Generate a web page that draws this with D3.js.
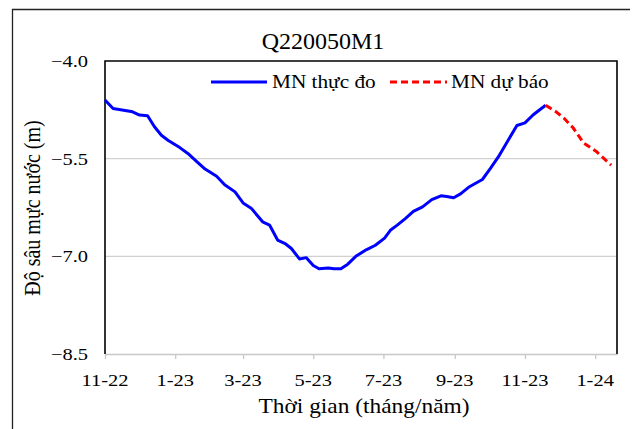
<!DOCTYPE html>
<html>
<head>
<meta charset="utf-8">
<script src="https://cdn.jsdelivr.net/npm/d3@7"></script>
<style>
  body { margin: 0; background: #fff; }
  svg text { font-family: "Liberation Serif", "DejaVu Serif", "Times New Roman", Times, serif; }
</style>
</head>
<body>
<div id="chart"></div>
<script>
// measured water level (blue) and forecast (red dashed)
var obsDates = ["2022-11-01","2022-11-08","2022-11-25","2022-12-01","2022-12-08","2022-12-14","2022-12-20","2022-12-26",
  "2023-01-05","2023-01-12","2023-01-20","2023-01-27","2023-02-06","2023-02-13","2023-02-22","2023-03-01","2023-03-08",
  "2023-03-18","2023-03-24","2023-03-31","2023-04-07","2023-04-12","2023-04-19","2023-04-25","2023-05-01","2023-05-06",
  "2023-05-14","2023-05-19","2023-05-25","2023-05-31","2023-06-07","2023-06-16","2023-06-24","2023-07-02","2023-07-07",
  "2023-07-13","2023-07-20","2023-07-27","2023-08-04","2023-08-12","2023-08-20","2023-08-25","2023-08-31","2023-09-06",
  "2023-09-13","2023-09-18","2023-09-25","2023-10-02","2023-10-09","2023-10-16","2023-10-25","2023-11-01","2023-11-08",
  "2023-11-13","2023-11-19"];
var obsValues = [-4.60,-4.73,-4.78,-4.83,-4.84,-5.01,-5.14,-5.22,
  -5.33,-5.42,-5.55,-5.66,-5.77,-5.90,-6.01,-6.18,-6.26,
  -6.47,-6.52,-6.75,-6.81,-6.88,-7.04,-7.02,-7.14,-7.19,
  -7.18,-7.19,-7.19,-7.12,-7.00,-6.90,-6.83,-6.72,-6.60,
  -6.52,-6.42,-6.31,-6.24,-6.13,-6.07,-6.08,-6.10,-6.04,
  -5.94,-5.89,-5.82,-5.65,-5.47,-5.26,-4.99,-4.95,-4.83,
  -4.76,-4.68];
var fcDates = ["2023-11-19","2023-11-28","2023-12-05","2023-12-13","2023-12-22","2024-01-02","2024-01-15"];
var fcValues = [-4.68,-4.78,-4.88,-5.03,-5.26,-5.39,-5.60];

var xTicks = ["2022-11-01","2023-01-01","2023-03-01","2023-05-01","2023-07-01","2023-09-01","2023-11-01","2024-01-01"];
var yTicks = [-4.0, -5.5, -7.0, -8.5];

var width = 634, height = 429;
var pLeft = 105, pRight = 617, pTop = 61, pBottom = 354;
var serif = '"Liberation Serif", "DejaVu Serif", "Times New Roman", Times, serif';
var parse = d3.timeParse("%Y-%m-%d");
var fmtMonth = d3.timeFormat("%-m-%y");

var svg = d3.select("#chart").append("svg")
  .attr("width", width).attr("height", height);

// outer frame (no right/bottom edge visible)
svg.append("path")
  .attr("d", "M12.5,430 L12.5,9.5 L630,9.5")
  .attr("fill", "none").attr("stroke", "#222").attr("stroke-width", 1.3);

var x = d3.scaleTime()
  .domain([parse("2022-11-01"), parse("2024-01-20")])
  .range([pLeft, pRight]);
var y = d3.scaleLinear().domain([-8.5, -4.0]).range([pBottom, pTop]);

// gridlines
svg.selectAll(".grid")
  .data(yTicks.filter(function(d) { return d > -8.5 && d < -4.0; }))
  .enter().append("line")
  .attr("x1", pLeft).attr("x2", pRight)
  .attr("y1", function(d) { return y(d); })
  .attr("y2", function(d) { return y(d); })
  .attr("stroke", "#d0d0d0").attr("stroke-width", 1.3);

// x axis
var xAxis = svg.append("g")
  .attr("transform", "translate(0," + pBottom + ")")
  .call(d3.axisBottom(x)
    .tickValues(xTicks.map(parse))
    .tickSize(5)
    .tickSizeOuter(0)
    .tickFormat(fmtMonth));
xAxis.select(".domain").attr("stroke", "#c8c8c8").attr("stroke-width", 1.3);
xAxis.selectAll(".tick line").attr("stroke", "#c8c8c8").attr("stroke-width", 1.3);
xAxis.selectAll(".tick text").remove();

// plot border: left, top, right in black
svg.append("path")
  .attr("d", "M" + pLeft + "," + pBottom + " L" + pLeft + "," + pTop + " L" + pRight + "," + pTop + " L" + pRight + "," + pBottom)
  .attr("fill", "none").attr("stroke", "#000").attr("stroke-width", 1.6);

svg.selectAll(".xlab")
  .data(xTicks)
  .enter().append("text")
  .attr("transform", function(d) { return "translate(" + x(parse(d)) + ",385.5) scale(1.17,1)"; })
  .attr("text-anchor", "middle")
  .style("font-family", serif)
  .style("font-size", "17.5px")
  .text(function(d) { return fmtMonth(parse(d)); });

// y tick labels
svg.selectAll(".ylab")
  .data(yTicks)
  .enter().append("text")
  .attr("transform", function(d) { return "translate(88," + (y(d) + 6) + ") scale(1.17,1)"; })
  .attr("text-anchor", "end")
  .style("font-family", serif)
  .style("font-size", "17.5px")
  .text(function(d) { return d3.format(".1f")(d); });

// lines
var line = d3.line()
  .x(function(d) { return x(d.date); })
  .y(function(d) { return y(d.value); });

var obs = obsDates.map(function(d, i) { return { date: parse(d), value: obsValues[i] }; });
var fc = fcDates.map(function(d, i) { return { date: parse(d), value: fcValues[i] }; });

svg.append("path").datum(obs)
  .attr("d", line)
  .attr("fill", "none").attr("stroke", "#0000ff").attr("stroke-width", 3)
  .attr("stroke-linejoin", "round");

svg.append("path").datum(fc)
  .attr("d", line)
  .attr("fill", "none").attr("stroke", "#ff0000").attr("stroke-width", 3)
  .attr("stroke-dasharray", "7,4");

// title
svg.append("text")
  .attr("x", 323).attr("y", 49)
  .attr("text-anchor", "middle")
  .style("font-family", serif)
  .style("font-size", "24px")
  .text("Q220050M1");

// legend
svg.append("line")
  .attr("x1", 211).attr("x2", 267).attr("y1", 82).attr("y2", 82)
  .attr("stroke", "#0000ff").attr("stroke-width", 3);
svg.append("text")
  .attr("transform", "translate(272,88) scale(1.15,1)")
  .style("font-family", serif)
  .style("font-size", "18.5px")
  .text("MN thực đo");
svg.append("line")
  .attr("x1", 390).attr("x2", 447).attr("y1", 82).attr("y2", 82)
  .attr("stroke", "#ff0000").attr("stroke-width", 3)
  .attr("stroke-dasharray", "7,4");
svg.append("text")
  .attr("transform", "translate(451,88) scale(1.15,1)")
  .style("font-family", serif)
  .style("font-size", "18.5px")
  .text("MN dự báo");

// axis titles
svg.append("text")
  .attr("transform", "translate(364,413) scale(1.17,1)")
  .attr("text-anchor", "middle")
  .style("font-family", serif)
  .style("font-size", "20px")
  .text("Thời gian (tháng/năm)");

svg.append("text")
  .attr("transform", "translate(40,208) scale(1.17,1) rotate(-90)")
  .attr("text-anchor", "middle")
  .style("font-family", serif)
  .style("font-size", "20px")
  .text("Độ sâu mực nước (m)");
</script>
</body>
</html>
